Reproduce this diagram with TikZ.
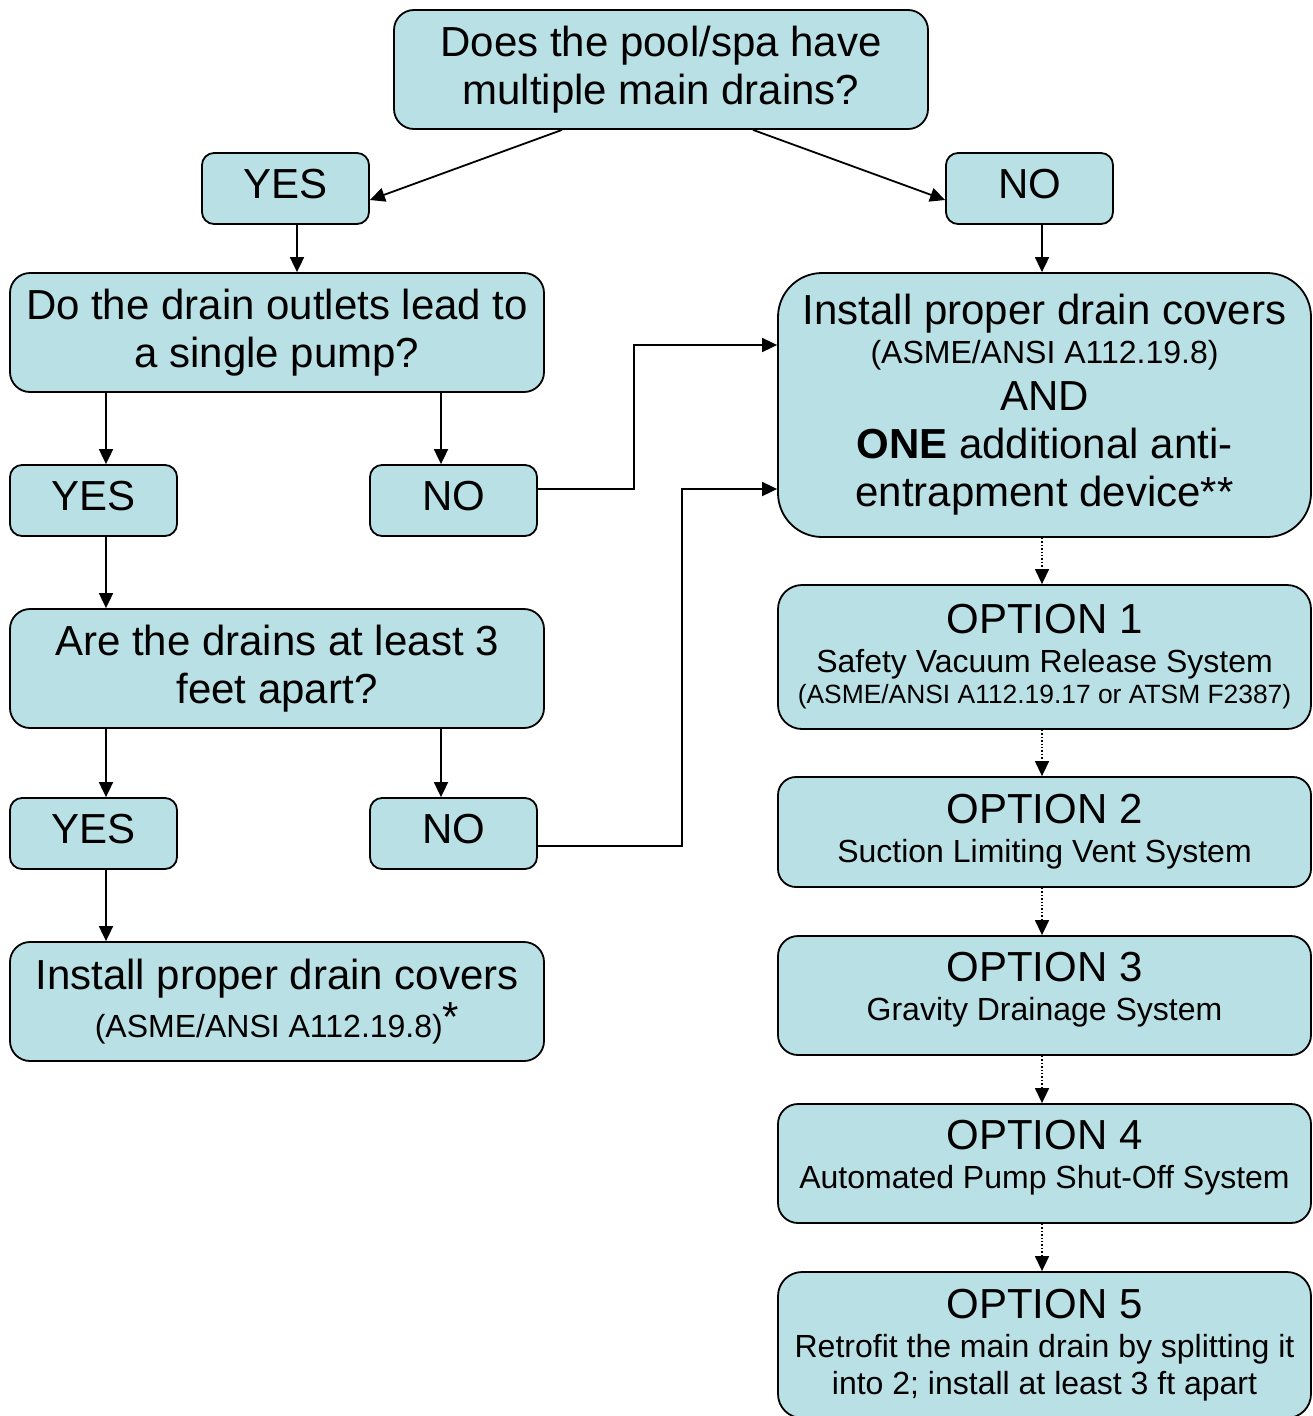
\documentclass[tikz,border=0pt]{standalone}
\usepackage{fontspec}
\setmainfont{Liberation Sans}
\usetikzlibrary{arrows.meta}
\definecolor{boxfill}{RGB}{185,224,228}
\newcommand{\fbig}{\fontsize{42}{48}\selectfont}
\newcommand{\fmid}{\fontsize{32}{38}\selectfont}
\newcommand{\fsml}{\fontsize{26.4}{31}\selectfont}
\tikzset{
  box/.style={draw, line width=1.8pt, fill=boxfill, align=center, inner sep=0pt, font=\fbig},
  yn/.style={box, minimum width=167pt, minimum height=71pt, rounded corners=12pt, text depth=10pt},
  arr/.style={-{Triangle[length=15pt,width=14pt]}, line width=1.8pt},
  darr/.style={-{Triangle[length=15pt,width=14pt]}, line width=1.4pt, dotted}
}
\begin{document}
\begin{tikzpicture}[x=1pt,y=-1pt]
\useasboundingbox (0,0) rectangle (1312,1416);
\begin{scope}
\clip (0,0) rectangle (1312,1416);
% question nodes
\node[box, minimum width=534pt, minimum height=119pt, rounded corners=20pt] (q1) at (661,69.5)
  {Does the pool/spa have\\multiple main drains?};
\node[yn] (yes1) at (285.5,188.5) {YES};
\node[yn] (no1) at (1029.5,188.5) {NO};
\node[box, minimum width=534pt, minimum height=119pt, rounded corners=20pt] (q2) at (277,332.5)
  {Do the drain outlets lead to\\a single pump?};
\node[yn] (yes2) at (93.5,500.5) {YES};
\node[yn] (no2) at (453.5,500.5) {NO};
\node[box, minimum width=534pt, minimum height=119pt, rounded corners=20pt] (q3) at (277,668.5)
  {Are the drains at least 3\\feet apart?};
\node[yn] (yes3) at (93.5,833.5) {YES};
\node[yn] (no3) at (453.5,833.5) {NO};
\node[box, minimum width=534pt, minimum height=119pt, rounded corners=20pt] (inst) at (277,1001.5)
  {Install proper drain covers\\\fmid (ASME/ANSI A112.19.8)\raisebox{0.2em}{\fbig *}};
% right column
\node[box, minimum width=533pt, minimum height=264pt, rounded corners=44pt] (big) at (1044.5,405)
  {Install proper drain covers\\[-9pt]
   \fmid (ASME/ANSI A112.19.8)\\[-1pt]
   AND\\
   \textbf{ONE} additional anti-\\
   entrapment device**};
\node[box, minimum width=533pt, minimum height=144pt, rounded corners=24pt] (o1) at (1044.5,657)
  {OPTION 1\\[-9pt]
   \fmid Safety Vacuum Release System\\[-17pt]
   \fsml (ASME/ANSI A112.19.17 or ATSM F2387)};
\node[box, minimum width=533pt, minimum height=110pt, rounded corners=18pt] (o2) at (1044.5,832)
  {OPTION 2\\[-9pt]\fmid Suction Limiting Vent System};
\node[box, minimum width=533pt, minimum height=119pt, rounded corners=20pt, text depth=19pt] (o3) at (1044.5,995.5)
  {OPTION 3\\[-9pt]\fmid Gravity Drainage System};
\node[box, minimum width=533pt, minimum height=119pt, rounded corners=20pt, text depth=19pt] (o4) at (1044.5,1163.5)
  {OPTION 4\\[-9pt]\fmid Automated Pump Shut-Off System};
\node[box, minimum width=533pt, minimum height=146pt, rounded corners=24pt] (o5) at (1044.5,1345)
  {OPTION 5\\[-9pt]
   \fmid Retrofit the main drain by splitting it\\[-11pt]
   \fmid into 2; install at least 3 ft apart};
\end{scope}
% connectors
\draw[arr] (q1.south -| 562,0) -- (yes1.east |- 0,200);
\draw[arr] (q1.south -| 753,0) -- (no1.west |- 0,200);
\draw[arr] (yes1.south -| 297,0) -- (q2.north -| 297,0);
\draw[arr] (no1.south -| 1042,0) -- (big.north -| 1042,0);
\draw[arr] (q2.south -| 106,0) -- (yes2.north -| 106,0);
\draw[arr] (q2.south -| 441,0) -- (no2.north -| 441,0);
\draw[arr] (yes2.south -| 106,0) -- (q3.north -| 106,0);
\draw[arr] (q3.south -| 106,0) -- (yes3.north -| 106,0);
\draw[arr] (q3.south -| 441,0) -- (no3.north -| 441,0);
\draw[arr] (yes3.south -| 106,0) -- (inst.north -| 106,0);
\draw[arr] (no2.east |- 0,489) -| (634,345) -- (big.west |- 0,345);
\draw[arr] (no3.east |- 0,846) -| (682,489) -- (big.west |- 0,489);
\draw[darr] (big.south -| 1042,0) -- (o1.north -| 1042,0);
\draw[darr] (o1.south -| 1042,0) -- (o2.north -| 1042,0);
\draw[darr] (o2.south -| 1042,0) -- (o3.north -| 1042,0);
\draw[darr] (o3.south -| 1042,0) -- (o4.north -| 1042,0);
\draw[darr] (o4.south -| 1042,0) -- (o5.north -| 1042,0);
\end{tikzpicture}
\end{document}
